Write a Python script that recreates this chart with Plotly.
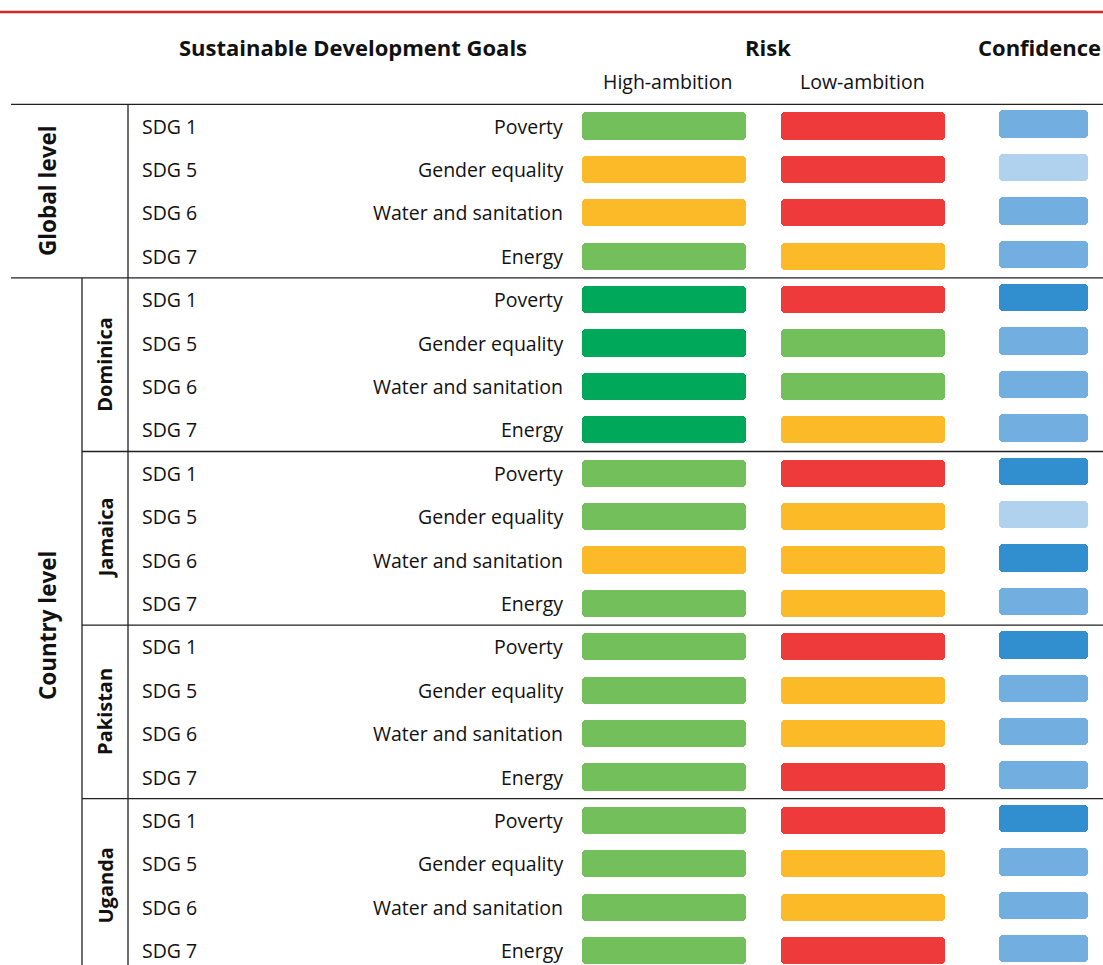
import plotly.graph_objects as go

# ---------------- data ----------------
levels = ["Global level", "Country level"]
countries = ["Dominica", "Jamaica", "Pakistan", "Uganda"]
sdg_codes = ["SDG 1", "SDG 5", "SDG 6", "SDG 7"]
goal_names = ["Poverty", "Gender equality", "Water and sanitation", "Energy"]

# rows: Global (4), Dominica (4), Jamaica (4), Pakistan (4), Uganda (4)
high_ambition_risk = [
    "low", "moderate", "moderate", "low",
    "very low", "very low", "very low", "very low",
    "low", "low", "moderate", "low",
    "low", "low", "low", "low",
    "low", "low", "low", "low",
]
low_ambition_risk = [
    "high", "high", "high", "moderate",
    "high", "low", "low", "moderate",
    "high", "moderate", "moderate", "moderate",
    "high", "moderate", "moderate", "high",
    "high", "moderate", "moderate", "high",
]
confidence = [
    "medium", "low", "medium", "medium",
    "high", "medium", "medium", "medium",
    "high", "low", "high", "medium",
    "high", "medium", "medium", "medium",
    "high", "medium", "medium", "medium",
]

# ---------------- styles ----------------
risk_colors = {"very low": "#00a859", "low": "#72bf5b", "moderate": "#fcb928", "high": "#ef3a3c"}
conf_colors = {"high": "#318ecf", "medium": "#72aee0", "low": "#b1d2ee"}
FONT = "Open Sans"
LINE = "#231f20"
W, H = 1103, 965

n_rows = len(sdg_codes) * (1 + len(countries))
rows = list(range(n_rows))
row0_px, row_step = 126.0, 43.4
y_top = (0 - row0_px) / row_step
y_bot = (H - row0_px) / row_step

# column positions (pixels)
cols = {"high": (582, 746), "low": (781, 945), "conf": (999, 1088)}
bar_w = 0.63
offsets = {"high": -bar_w / 2, "low": -bar_w / 2, "conf": -bar_w / 2 - 0.045}

fig = go.Figure()
for key, vals, cmap in [("high", high_ambition_risk, risk_colors),
                        ("low", low_ambition_risk, risk_colors),
                        ("conf", confidence, conf_colors)]:
    x0, x1 = cols[key]
    fig.add_trace(go.Bar(
        orientation="h", y=rows, x=[x1 - x0] * n_rows, base=[x0] * n_rows,
        width=bar_w, offset=offsets[key],
        marker=dict(color=[cmap[v] for v in vals], line=dict(width=0), cornerradius=4),
        hoverinfo="skip", showlegend=False,
    ))

ann = []
txt_font = dict(family=FONT, size=19.5, color="#111")
for r in rows:
    k = r % len(sdg_codes)
    ann.append(dict(x=140, y=r, xref="x", yref="y", text=sdg_codes[k], showarrow=False,
                    xanchor="left", yanchor="middle", font=txt_font))
    ann.append(dict(x=565, y=r, xref="x", yref="y", text=goal_names[k], showarrow=False,
                    xanchor="right", yanchor="middle", font=txt_font))

def py(p):
    return 1 - p / H

hdr_font = dict(family=FONT, size=22, color="#111")
ann += [
    dict(x=353, y=py(47), xref="x", yref="paper", text="<b>Sustainable Development Goals</b>",
         showarrow=False, xanchor="center", yanchor="middle", font=hdr_font),
    dict(x=768, y=py(47), xref="x", yref="paper", text="<b>Risk</b>",
         showarrow=False, xanchor="center", yanchor="middle", font=hdr_font),
    dict(x=1103, y=py(47), xref="x", yref="paper", text="<b>Confidence</b>",
         showarrow=False, xanchor="right", yanchor="middle", font=hdr_font),
    dict(x=667, y=py(81), xref="x", yref="paper", text="High-ambition",
         showarrow=False, xanchor="center", yanchor="middle", font=txt_font),
    dict(x=862, y=py(81), xref="x", yref="paper", text="Low-ambition",
         showarrow=False, xanchor="center", yanchor="middle", font=txt_font),
]

g = len(sdg_codes)
lvl_font = dict(family=FONT, size=22.5, color="#111")
ann.append(dict(x=47, y=(g - 1) / 2, xref="x", yref="y", text="<b>" + levels[0] + "</b>",
                textangle=-90, showarrow=False, font=lvl_font))
ann.append(dict(x=47, y=(g + n_rows - 1) / 2, xref="x", yref="y", text="<b>" + levels[1] + "</b>",
                textangle=-90, showarrow=False, font=lvl_font))
for i, c in enumerate(countries):
    start = g * (i + 1)
    ann.append(dict(x=105, y=start + (g - 1) / 2, xref="x", yref="y", text="<b>" + c + "</b>",
                    textangle=-90, showarrow=False, font=dict(family=FONT, size=20, color="#111")))

shapes = []
shapes.append(dict(type="line", xref="paper", yref="paper", x0=0, x1=1, y0=py(12), y1=py(12),
                   line=dict(color="#d2232a", width=2.5)))
lw = 1.3
shapes.append(dict(type="line", xref="x", yref="y", x0=11, x1=W, y0=-0.5, y1=-0.5, line=dict(color=LINE, width=lw)))
shapes.append(dict(type="line", xref="x", yref="y", x0=11, x1=W, y0=g - 0.5, y1=g - 0.5, line=dict(color=LINE, width=lw)))
for i in range(1, len(countries)):
    yy = g * (i + 1) - 0.5
    shapes.append(dict(type="line", xref="x", yref="y", x0=82, x1=W, y0=yy, y1=yy, line=dict(color=LINE, width=lw)))
shapes.append(dict(type="line", xref="x", yref="y", x0=128, x1=128, y0=-0.5, y1=y_bot, line=dict(color=LINE, width=lw)))
shapes.append(dict(type="line", xref="x", yref="y", x0=82, x1=82, y0=g - 0.5, y1=y_bot, line=dict(color=LINE, width=lw)))

fig.update_layout(
    width=W, height=H, margin=dict(l=0, r=0, t=0, b=0),
    paper_bgcolor="white", plot_bgcolor="white",
    xaxis=dict(range=[0, W], visible=False, fixedrange=True),
    yaxis=dict(range=[y_bot, y_top], visible=False, fixedrange=True),
    annotations=ann, shapes=shapes, barmode="overlay", bargap=0,
)
fig.write_html("out.html", config={"displayModeBar": False},
               post_script="document.body.style.margin='0';document.body.style.overflow='hidden';")
